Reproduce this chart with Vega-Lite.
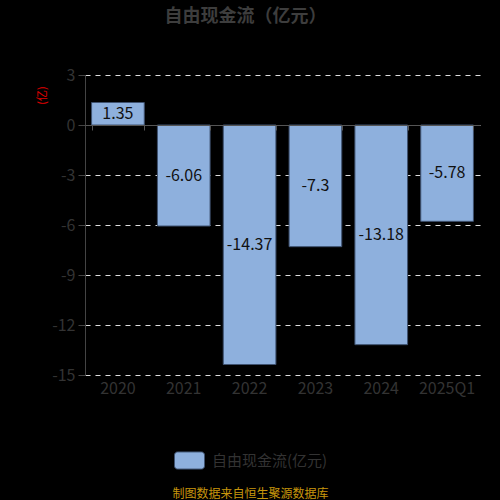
{
  "$schema": "https://vega.github.io/schema/vega-lite/v6.json",
  "autosize": "none",
  "width": 395,
  "height": 300,
  "padding": {"left": 85, "top": 75, "right": 20, "bottom": 125},
  "background": "#000000",
  "title": {
    "text": "自由现金流（亿元）",
    "anchor": "middle",
    "frame": "group",
    "dx": -37,
    "offset": 32,
    "baseline": "middle",
    "font": "Noto Sans CJK SC",
    "fontSize": 18,
    "fontWeight": "bold",
    "color": "#3d3d3d"
  },
  "config": {
    "view": {"stroke": null},
    "font": "Noto Sans CJK SC"
  },
  "data": {
    "values": [
      {"period": "2020", "value": 1.35},
      {"period": "2021", "value": -6.06},
      {"period": "2022", "value": -14.37},
      {"period": "2023", "value": -7.3},
      {"period": "2024", "value": -13.18},
      {"period": "2025Q1", "value": -5.78}
    ]
  },
  "resolve": {"axis": {"x": "independent"}},
  "layer": [
    {
      "mark": {"type": "bar", "stroke": "#3f5270", "strokeWidth": 1},
      "encoding": {
        "x": {
          "field": "period",
          "type": "nominal",
          "sort": null,
          "scale": {"paddingInner": 0.2, "paddingOuter": 0.1},
          "axis": {
            "orient": "bottom",
            "title": "制图数据来自恒生聚源数据库",
            "titleColor": "#c8960c",
            "titleFont": "Noto Sans CJK SC",
            "titleFontSize": 12,
            "titleFontWeight": "normal",
            "titleX": 165,
            "titleY": 118,
            "titleBaseline": "middle",
            "domain": false,
            "ticks": false,
            "grid": false,
            "labelAngle": 0,
            "labelColor": "#333333",
            "labelFontSize": 16,
            "labelPadding": 5
          }
        },
        "y": {
          "field": "value",
          "type": "quantitative",
          "scale": {"domain": [-15, 3], "nice": false, "zero": false},
          "axis": {
            "values": [3, 0, -3, -6, -9, -12, -15],
            "labelExpr": "toString(datum.value)",
            "title": "(亿)",
            "titleColor": "#e00000",
            "titleFontSize": 11,
            "titleFontWeight": "normal",
            "titleX": -43,
            "titleY": 20,
            "titleAngle": -90,
            "titleBaseline": "middle",
            "titleAlign": "center",
            "domainColor": "#444444",
            "tickColor": "#444444",
            "tickSize": 7,
            "labelColor": "#333333",
            "labelFontSize": 16,
            "labelPadding": 3,
            "grid": true,
            "gridColor": "#dddddd",
            "gridDash": [5, 5],
            "gridWidth": 1
          }
        },
        "y2": {"datum": 0},
        "color": {
          "datum": "自由现金流(亿元)",
          "type": "nominal",
          "scale": {"range": ["#8eb0dd"]},
          "legend": {
            "orient": "none",
            "legendX": 89,
            "legendY": 370,
            "title": null,
            "symbolType": "M-0.8,-0.57H0.8A0.2,0.2 0 0 1 1,-0.37V0.37A0.2,0.2 0 0 1 0.8,0.57H-0.8A0.2,0.2 0 0 1 -1,0.37V-0.37A0.2,0.2 0 0 1 -0.8,-0.57Z",
            "symbolSize": 900,
            "symbolStrokeColor": "#3f5270",
            "symbolStrokeWidth": 1,
            "symbolOpacity": 1,
            "labelColor": "#333333",
            "labelFontSize": 15,
            "labelOffset": 7
          }
        }
      }
    },
    {
      "transform": [{"calculate": "datum.value / 2", "as": "mid"}],
      "mark": {"type": "text", "fontSize": 16, "color": "#111111", "baseline": "middle"},
      "encoding": {
        "x": {
          "field": "period",
          "type": "nominal",
          "sort": null,
          "axis": {
            "orient": "top",
            "offset": -50,
            "labels": false,
            "title": null,
            "grid": false,
            "domain": true,
            "domainColor": "#555555",
            "ticks": true,
            "tickColor": "#555555",
            "tickSize": -5,
            "tickBand": "extent",
            "zindex": 1
          }
        },
        "y": {"field": "mid", "type": "quantitative"},
        "text": {"field": "value", "type": "nominal"}
      }
    }
  ]
}
